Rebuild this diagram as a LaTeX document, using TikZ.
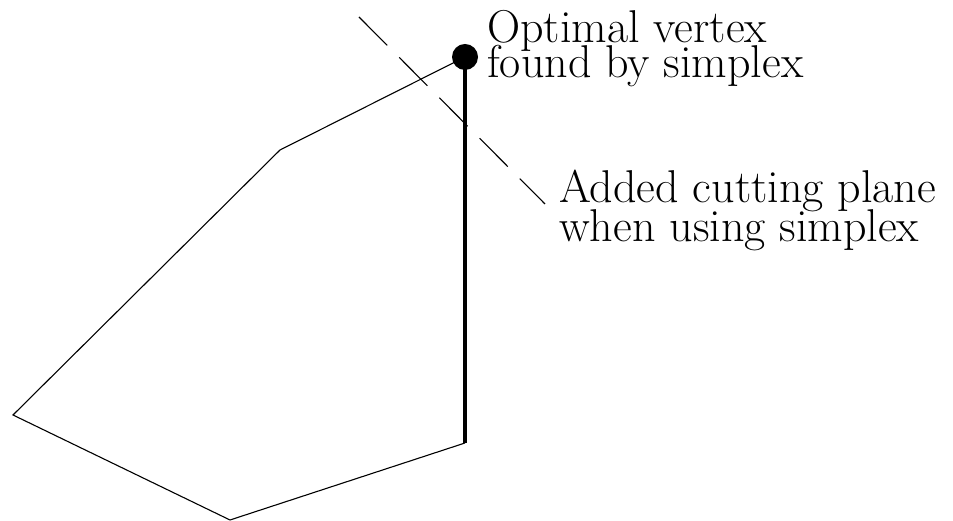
\documentclass[tikz,border=0pt]{standalone}
\begin{document}
\begin{tikzpicture}[x=1pt,y=1pt,
  edge/.style={line width=1.1pt,line join=miter},
  thickedge/.style={line width=4pt},
  cutline/.style={line width=1.1pt,dash pattern=on 40pt off 17pt},
  lbl/.style={anchor=base west,inner sep=0pt,font=\fontsize{46}{40}\selectfont}]
\useasboundingbox (0,0) rectangle (953,521);
\coordinate (top) at (465,464);
\coordinate (a) at (280,371);
\coordinate (b) at (13,106);
\coordinate (c) at (230,1);
\coordinate (d) at (465,78);
\coordinate (p1) at (359,504);
\coordinate (p2) at (545,317);
\draw[edge] (top) -- (a) -- (b) -- (c) -- (d);
\draw[thickedge] (d) -- (top);
\draw[cutline] (p1) -- (p2);
\fill (top) circle (13);
\node[lbl] (t1) at (487,478) {Optimal vertex};
\node[lbl] (t2) at (487,443) {found by simplex};
\node[lbl] (t3) at (559,318) {Added cutting plane};
\node[lbl] (t4) at (559,279) {when using simplex};
\end{tikzpicture}
\end{document}
